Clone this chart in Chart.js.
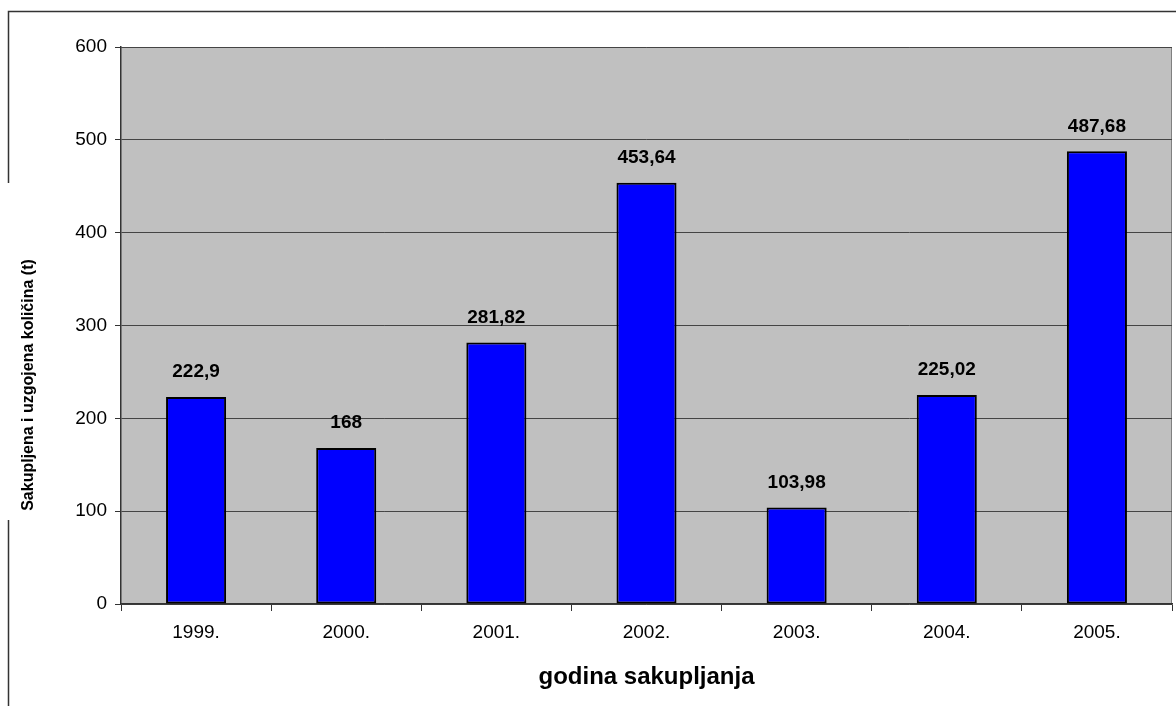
<!DOCTYPE html>
<html>
<head>
<meta charset="utf-8">
<script src="https://cdn.jsdelivr.net/npm/chart.js@4.4.1/dist/chart.umd.min.js"></script>
<style>
  html, body { margin: 0; padding: 0; background: #fff; }
  #wrap { width: 1176px; height: 706px; }
</style>
</head>
<body>
<div id="wrap"><canvas id="chart" width="1176" height="706"></canvas></div>
<script>
// chart data
const years = ['1999.', '2000.', '2001.', '2002.', '2003.', '2004.', '2005.'];
const amounts = [222.9, 168, 281.82, 453.64, 103.98, 225.02, 487.68];
const amountLabels = ['222,9', '168', '281,82', '453,64', '103,98', '225,02', '487,68'];
const yTicks = [0, 100, 200, 300, 400, 500, 600];

const xTitle = 'godina sakupljanja';
const yTitle = 'Sakupljena i uzgojena količina (t)';

const FONT = 'Arial, "Liberation Sans", sans-serif';

// gray plot background + border, outer frame, y title, value labels
const decor = {
  id: 'decor',
  beforeDraw(chart) {
    const { ctx, chartArea: a } = chart;
    ctx.save();
    ctx.fillStyle = '#c0c0c0';
    ctx.fillRect(a.left, a.top, a.right - a.left, a.bottom - a.top);
    ctx.strokeStyle = '#808080';
    ctx.lineWidth = 1;
    ctx.beginPath();
    ctx.moveTo(a.left, a.top + 0.5);
    ctx.lineTo(a.right - 0.5, a.top + 0.5);
    ctx.lineTo(a.right - 0.5, a.bottom);
    ctx.stroke();

    // outer frame (partly hidden behind the axis title)
    ctx.strokeStyle = '#333';
    ctx.lineWidth = 1.5;
    ctx.beginPath();
    ctx.moveTo(8.5, 183);
    ctx.lineTo(8.5, 11.5);
    ctx.lineTo(1176, 11.5);
    ctx.moveTo(8.5, 520);
    ctx.lineTo(8.5, 706);
    ctx.stroke();

    ctx.translate(33, 385);
    ctx.rotate(-Math.PI / 2);
    ctx.fillStyle = '#000';
    ctx.font = 'bold 16px ' + FONT;
    ctx.textAlign = 'center';
    ctx.textBaseline = 'alphabetic';
    ctx.fillText(yTitle, 0, 0);
    ctx.restore();
  },
  afterDatasetsDraw(chart) {
    const { ctx } = chart;
    const meta = chart.getDatasetMeta(0);
    ctx.save();
    ctx.fillStyle = '#000';
    ctx.font = 'bold 19px ' + FONT;
    ctx.textAlign = 'center';
    ctx.textBaseline = 'middle';
    meta.data.forEach((bar, i) => {
      ctx.fillText(amountLabels[i], bar.x, bar.y - 25);
    });
    ctx.restore();
  }
};

const ctx = document.getElementById('chart').getContext('2d');
new Chart(ctx, {
  type: 'bar',
  data: {
    labels: years,
    datasets: [{
      data: amounts,
      backgroundColor: '#0000ff',
      borderColor: '#000',
      borderWidth: 2,
      borderSkipped: false,
      categoryPercentage: 1,
      barPercentage: 0.4
    }]
  },
  options: {
    responsive: false,
    animation: false,
    layout: { padding: { top: 47, right: 4, left: 0, bottom: 0 } },
    plugins: {
      legend: { display: false },
      tooltip: { enabled: false }
    },
    scales: {
      x: {
        offset: true,
        afterFit(scale) { scale.height = 102; },
        grid: {
          display: true,
          offset: true,
          drawOnChartArea: false,
          drawTicks: true,
          tickLength: 7,
          color: '#333',
          tickWidth: 1
        },
        border: { display: true, color: '#333', width: 1.5 },
        ticks: {
          color: '#000',
          padding: 10,
          maxRotation: 0,
          font: { family: FONT, size: 19 }
        },
        title: {
          display: true,
          text: xTitle,
          color: '#000',
          padding: { top: 0, bottom: 14 },
          font: { family: FONT, size: 24, weight: 'bold' }
        }
      },
      y: {
        min: 0,
        max: 600,
        afterFit(scale) { scale.width = 121; },
        afterBuildTicks(scale) { scale.ticks = yTicks.map(v => ({ value: v })); },
        grid: {
          color: '#444',
          lineWidth: 1,
          drawTicks: true,
          tickLength: 6,
          tickColor: '#333'
        },
        border: { display: true, color: '#333', width: 1.5 },
        ticks: {
          color: '#000',
          padding: 8,
          font: { family: FONT, size: 19 }
        }
      }
    }
  },
  plugins: [decor]
});
</script>
</body>
</html>
